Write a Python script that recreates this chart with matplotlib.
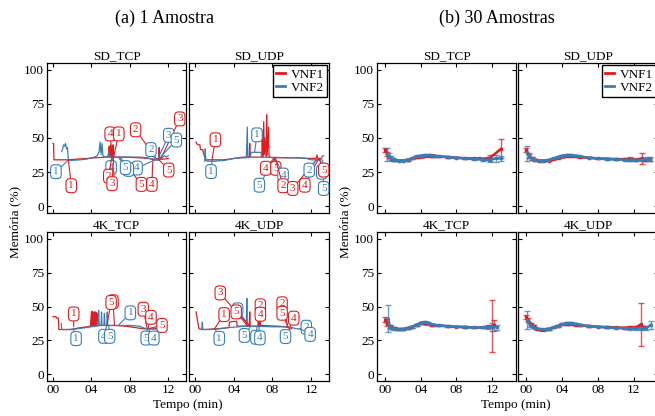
import numpy as np
import matplotlib
matplotlib.use("Agg")
import matplotlib.pyplot as plt
from matplotlib.lines import Line2D

plt.rcParams["font.family"] = ["Liberation Serif", "DejaVu Serif"]

RED = "#e41a1c"
BLUE = "#377eb8"
COLORS = [RED, BLUE]
W, H = 655, 416

facets = ["SD_TCP", "SD_UDP", "4K_TCP", "4K_UDP"]
series_names = ["VNF1", "VNF2"]
xticks = [0, 4, 8, 12]
xtick_labels = ["00", "04", "08", "12"]
yticks = [0, 25, 50, 75, 100]

# ---- (a) 1 Amostra : raw traces (tempo em min, memoria em %) ----
a_sd_tcp_t1 = [0.0, 0.05, 0.1, 1.5, 2.5, 3.5, 4.5, 5.5, 5.8, 5.85, 5.9, 6.0, 6.05, 6.1,
               6.2, 6.25, 6.3, 7.0, 8.0, 9.0, 10.0, 10.5, 11.0, 11.05, 11.1, 11.5, 12.0]
a_sd_tcp_v1 = [46, 46, 34, 34, 34.5, 35, 35.5, 36, 36, 44, 36, 45, 36, 42,
               36, 45, 36, 36, 35.8, 35.5, 35, 34, 34, 43, 34.5, 34.5, 35]
a_sd_tcp_t2 = [0.9, 1.0, 1.1, 1.2, 1.3, 1.4, 1.5, 1.6, 1.7, 2.5, 3.5, 4.3, 4.6, 4.8, 4.9, 5.0, 5.1,
               5.2, 5.3, 5.5, 5.7, 5.8, 5.9, 6.2, 7.0, 8.0, 9.0, 9.8, 10.5, 11.0, 11.3, 11.6, 11.8, 12.0]
a_sd_tcp_v2 = [40, 42, 45, 44, 46, 42, 43, 34, 33.5, 33.8, 34.5, 36, 37, 40, 47, 38, 46,
               37, 36.5, 36, 36.5, 40, 36, 36, 36, 36, 36, 35.5, 34, 33.8, 35, 37, 36, 37]

a_sd_udp_t1 = [0.1, 0.15, 0.3, 0.5, 0.55, 0.8, 0.85, 1.1, 2.0, 3.0, 4.0, 5.0, 5.6, 5.65, 5.7, 6.0,
               6.9, 6.95, 7.0, 7.1, 7.15, 7.2, 7.35, 7.4, 7.45, 7.6, 7.65, 7.7, 8.0, 9.0, 10.0,
               11.0, 12.0, 12.5, 12.6, 12.7, 13.0]
a_sd_udp_v1 = [47, 46, 45, 45, 41.5, 41.5, 39, 34, 34, 34, 35, 36, 36, 46, 36, 36,
               36, 55, 36, 62, 38, 50, 36, 67, 37, 58, 36, 36, 35.5, 35.5, 35.5,
               35.3, 35, 35, 37.5, 35, 35]
a_sd_udp_t2 = [1.0, 1.05, 1.1, 1.3, 2.0, 3.0, 4.0, 5.0, 5.3, 5.4, 5.45, 5.5, 5.7, 5.8, 6.0, 6.5,
               6.8, 6.9, 7.5, 8.5, 9.5, 10.5, 11.5, 12.0, 12.5, 13.0, 13.2, 13.3]
a_sd_udp_v2 = [33, 42, 33.5, 33, 33, 33.5, 35, 35.5, 35.5, 58, 36, 35.5, 36, 39.5, 39.5, 39.5,
               39.5, 36, 35.8, 35.8, 35.5, 35.5, 35, 34, 34, 34, 37, 37]

a_4k_tcp_t1 = [0.0, 0.3, 0.35, 0.55, 0.6, 1.0, 2.0, 2.5, 3.0, 3.5, 3.9, 4.0, 4.05, 4.1, 4.15, 4.2,
               4.25, 4.3, 4.35, 4.4, 4.45, 4.5, 4.55, 4.6, 4.8, 5.5, 6.5, 7.5, 8.0, 9.0, 9.5,
               10.0, 10.5, 11.0]
a_4k_tcp_v1 = [42.5, 42.5, 41.5, 41.5, 33, 33, 33, 34, 34.5, 35, 35.5, 46, 35.5, 46.5, 35.5, 45,
               36, 46, 36, 46, 36, 45.5, 36, 45, 36, 36, 36, 35.5, 35, 34, 33.5,
               33.5, 33.5, 34]
a_4k_tcp_t2 = [0.85, 0.9, 0.95, 1.5, 2.5, 3.5, 4.0, 4.5, 4.7, 4.75, 4.8, 5.0, 5.05, 5.1, 5.3,
               5.35, 5.4, 5.6, 5.65, 5.7, 6.0, 7.0, 8.0, 9.0, 9.5, 10.0, 10.5, 10.8]
a_4k_tcp_v2 = [37.5, 33, 33, 33, 33.5, 34.5, 35, 35.5, 35.5, 47, 36, 36, 46, 36, 36,
               45, 36, 36, 46, 36, 36, 36, 36, 35.5, 34, 33.5, 33.5, 33.5]

a_4k_udp_t1 = [0.1, 0.4, 1.0, 2.0, 3.0, 3.5, 3.55, 4.0, 4.3, 4.35, 5.0, 5.6, 5.65, 5.7, 5.8,
               6.5, 6.55, 6.6, 6.7, 6.75, 6.8, 7.5, 8.5, 9.5, 9.8, 10.0]
a_4k_udp_v1 = [46, 33.5, 33, 33.5, 34, 34.5, 38.5, 39, 39, 35.5, 35.5, 35.5, 46, 35.5, 35.5,
               35.5, 42.5, 35.5, 43, 35.5, 36, 35.8, 35.5, 35, 33.5, 33.5]
a_4k_udp_t2 = [0.7, 0.75, 0.8, 1.5, 2.5, 3.5, 4.5, 5.2, 5.3, 5.35, 5.4, 6.0, 7.0, 8.0, 9.0,
               10.0, 10.5, 11.0, 11.5]
a_4k_udp_v2 = [33, 38.5, 33, 33, 33.5, 34.5, 35, 35.5, 35.5, 56, 35.5, 35.3, 35.2, 35, 35,
               34.5, 33.5, 33.5, 33.5]

# eventos marcados: (rotulo, serie, t do ponto, valor do ponto, t da caixa, valor da caixa)
notes_sd_tcp = [
    ("1", 1, 1.6, 33.8, 0.3, 25.3), ("1", 0, 1.6, 33.8, 1.9, 15),
    ("4", 0, 6.15, 36, 5.95, 53), ("1", 0, 6.3, 36, 6.85, 53),
    ("2", 0, 10.8, 34.5, 8.6, 56), ("3", 0, 11.2, 34.5, 13.2, 64),
    ("3", 1, 10.9, 34.5, 12.05, 52), ("5", 1, 11.0, 34.5, 12.85, 48.5),
    ("2", 1, 10.6, 34.5, 10.2, 41.5), ("5", 0, 10.9, 35, 12.05, 26.5),
    ("4", 0, 10.4, 35, 10.3, 16), ("5", 0, 7.0, 35.5, 9.2, 16),
    ("4", 1, 10.8, 34.5, 8.75, 28), ("5", 1, 7.0, 35.5, 7.85, 27),
    ("5", 1, 6.85, 35.5, 7.55, 28.3), ("4", 1, 6.2, 35.5, 6.05, 28.3),
    ("2", 0, 6.1, 35.5, 5.8, 22), ("3", 0, 6.3, 35.5, 6.15, 16.5),
]
notes_sd_udp = [
    ("1", 0, 1.75, 34, 2.1, 48.7), ("1", 1, 1.75, 33.5, 1.65, 25.4),
    ("1", 1, 6.15, 39.5, 6.4, 52.3), ("5", 1, 8.2, 35, 6.65, 15.4),
    ("4", 0, 8.2, 35.5, 7.3, 27.8), ("5", 0, 8.2, 35.5, 8.35, 27.8),
    ("4", 1, 8.3, 35, 9.1, 22.8), ("2", 0, 8.3, 35, 9.1, 15),
    ("3", 0, 12.6, 34.5, 10.1, 13), ("4", 0, 12.8, 35, 11.35, 15.4),
    ("2", 1, 12.6, 34.5, 11.8, 26.5), ("5", 1, 13.2, 34, 13.3, 13),
    ("4", 1, 13.0, 34, 13.1, 25), ("5", 0, 12.8, 35, 13.3, 26.5),
]
notes_4k_tcp = [
    ("1", 0, 2.15, 35, 2.15, 44.5), ("1", 1, 2.1, 33.5, 2.4, 26.3),
    ("5", 0, 6.4, 36, 6.25, 53.5), ("5", 0, 5.6, 36, 6.05, 53),
    ("1", 1, 6.8, 36, 8.05, 45.3), ("4", 1, 5.6, 36, 5.3, 28),
    ("5", 1, 5.8, 36, 5.9, 28), ("3", 0, 9.8, 34, 9.4, 48),
    ("4", 0, 9.9, 34, 10.2, 42), ("5", 0, 10.1, 34, 11.35, 36),
    ("5", 1, 9.8, 33.5, 9.7, 26.7), ("4", 1, 9.9, 33.5, 10.5, 26.7),
]
notes_4k_udp = [
    ("3", 0, 5.45, 35.5, 2.6, 60), ("1", 0, 2.0, 33.5, 3.0, 44),
    ("1", 1, 2.1, 33, 2.5, 26.5), ("5", 1, 5.6, 35.5, 4.4, 47.5),
    ("5", 0, 5.7, 35.5, 4.25, 46), ("2", 0, 6.7, 36, 6.75, 50.5),
    ("4", 0, 6.7, 36, 6.75, 44.3), ("5", 1, 5.7, 35, 5.1, 28.6),
    ("1", 1, 6.4, 35, 6.3, 27.3), ("4", 1, 6.6, 35, 6.7, 26.8),
    ("2", 0, 9.6, 35, 9.0, 52), ("5", 0, 9.6, 35, 9.0, 45),
    ("4", 0, 9.8, 35, 10.2, 41.4), ("5", 1, 9.8, 34, 9.35, 27.8),
    ("2", 1, 10.8, 33.5, 11.5, 34.7), ("4", 1, 10.9, 33.5, 11.9, 29.4),
]

# ---- (b) 30 Amostras : media e desvio ----
b_sd_tcp_t1 = [0.0, 0.2, 0.4, 0.7, 1.0, 1.5, 2.0, 2.5, 3.0, 3.5, 4.0, 4.5, 5.0, 5.5, 6.0,
               7.0, 8.0, 9.0, 10.0, 10.5, 11.0, 11.8, 13.0]
b_sd_tcp_m1 = [41.5, 38, 36, 34.5, 34, 33.5, 33.5, 34, 35, 36, 36.5, 37, 37, 37, 36.5,
               36, 35.5, 35.2, 35, 35, 34.8, 35.5, 42]
b_sd_tcp_e1 = [1.5, 1.5, 1, 0.8, 0.6, 0.5, 0.5, 0.5, 0.6, 0.8, 0.8, 0.8, 0.7, 0.6, 0.5,
               0.5, 0.5, 0.5, 0.5, 0.5, 0.6, 2, 7]
b_sd_tcp_t2 = [0.2, 0.4, 0.6, 0.8, 1.0, 1.5, 2.0, 2.5, 3.0, 3.5, 4.0, 4.5, 5.0, 5.5, 6.0,
               7.0, 8.0, 9.0, 10.0, 11.0, 11.8, 12.4, 13.0]
b_sd_tcp_m2 = [38, 37, 35.5, 34.5, 34, 33.5, 33.5, 34, 35, 36.5, 37, 37.5, 37.5, 37, 36.5,
               36, 35.5, 35, 34.5, 34.2, 34, 35, 35]
b_sd_tcp_e2 = [4.5, 2, 1.5, 1, 0.7, 0.5, 0.5, 0.5, 0.6, 0.8, 0.8, 0.7, 0.7, 0.6, 0.5,
               0.5, 0.5, 0.5, 0.6, 0.7, 1.5, 2.5, 2]

b_sd_udp_t1 = [0.0, 0.3, 0.6, 1.0, 1.5, 2.0, 2.5, 3.0, 3.5, 4.0, 4.5, 5.0, 5.5, 6.0, 7.0,
               8.0, 9.0, 10.0, 11.0, 11.6, 12.2, 12.9, 13.3, 13.8]
b_sd_udp_m1 = [41, 37, 35, 34, 33.3, 33.3, 33.5, 34.5, 35.5, 36.5, 37, 37, 36.5, 36, 35.5,
               35, 34.8, 34.5, 34.5, 34.5, 34, 35, 34, 34.5]
b_sd_udp_e1 = [1.5, 1.5, 1, 0.8, 0.6, 0.5, 0.5, 0.6, 0.7, 0.8, 0.8, 0.8, 0.7, 0.6, 0.5,
               0.5, 0.5, 0.5, 0.8, 1.5, 0.8, 4, 1, 1]
b_sd_udp_t2 = [0.1, 0.3, 0.6, 1.0, 1.5, 2.0, 2.5, 3.0, 3.5, 4.0, 4.5, 5.0, 5.5, 6.0, 7.0,
               8.0, 9.0, 10.0, 11.0, 11.6, 12.2, 12.9, 13.5, 13.8]
b_sd_udp_m2 = [39, 37, 35, 34, 33.5, 33.5, 34, 35, 36, 37, 37.5, 37.5, 37, 36.5, 35.5,
               35, 34.5, 34.3, 34, 34, 34, 34, 34.5, 34.5]
b_sd_udp_e2 = [5.5, 2, 1.2, 0.8, 0.6, 0.5, 0.5, 0.6, 0.7, 0.8, 0.8, 0.8, 0.7, 0.6, 0.5,
               0.5, 0.5, 0.5, 0.6, 1, 1, 1, 1.5, 1.5]

b_4k_tcp_t1 = [0.0, 0.2, 0.5, 1.0, 1.5, 2.0, 2.5, 3.0, 3.5, 4.0, 4.3, 4.7, 5.2, 6.0, 7.0,
               8.0, 9.0, 10.0, 11.0, 11.6, 12.0, 12.2]
b_4k_tcp_m1 = [40.3, 37, 35.4, 34, 33.3, 33.3, 34, 35, 36.5, 37.8, 38, 37.5, 36.5, 36, 35.4,
               35, 34.8, 34.5, 34.5, 35, 35.4, 36]
b_4k_tcp_e1 = [2, 1.5, 1, 0.8, 0.6, 0.5, 0.5, 0.6, 0.7, 0.8, 0.8, 0.8, 0.7, 0.6, 0.5,
               0.5, 0.5, 0.5, 0.6, 1, 19.2, 4]
b_4k_tcp_t2 = [0.3, 0.5, 0.8, 1.2, 1.6, 2.0, 2.5, 3.0, 3.5, 4.0, 4.4, 4.8, 5.5, 6.0, 7.0,
               8.0, 9.0, 10.0, 11.0, 11.6, 12.0, 12.6]
b_4k_tcp_m2 = [41, 35, 34, 33.3, 33.2, 33.3, 34, 35, 36.5, 38, 38.5, 37.8, 36.5, 36, 35.5,
               35, 34.8, 34.5, 34.5, 34.5, 35, 34.5]
b_4k_tcp_e2 = [10, 1.5, 1, 0.6, 0.5, 0.5, 0.5, 0.6, 0.7, 0.8, 0.8, 0.8, 0.7, 0.6, 0.5,
               0.5, 0.5, 0.5, 0.6, 1, 3, 1.5]

b_4k_udp_t1 = [0.0, 0.2, 0.5, 0.8, 1.2, 1.6, 2.0, 2.5, 3.0, 3.5, 4.0, 4.5, 5.0, 5.5, 6.0,
               7.0, 8.0, 9.0, 10.0, 11.0, 11.6, 12.2, 12.8, 13.1]
b_4k_udp_m1 = [42.2, 39.8, 37, 35.5, 33.5, 33, 33, 33.5, 34.5, 35.5, 36.8, 37.4, 37.3, 36.5, 36,
               35.5, 35, 34.8, 34.5, 34.3, 34.5, 34.5, 36.8, 34.5]
b_4k_udp_e1 = [1.5, 1.5, 1, 0.8, 0.6, 0.5, 0.5, 0.5, 0.6, 0.7, 0.8, 0.8, 0.8, 0.7, 0.6,
               0.5, 0.5, 0.5, 0.5, 0.6, 1.2, 1, 15.8, 1]
b_4k_udp_t2 = [0.1, 0.4, 0.7, 1.0, 1.5, 2.0, 2.5, 3.0, 3.5, 4.0, 4.5, 5.0, 5.5, 6.0, 7.0,
               8.0, 9.0, 10.0, 11.0, 11.6, 12.2, 12.8, 13.4, 13.9]
b_4k_udp_m2 = [40, 36.5, 35, 34, 33.3, 33.2, 33.5, 34.5, 35.5, 36.8, 37.5, 37.8, 37.2, 36.5, 35.5,
               35, 34.5, 34.2, 33.8, 33.8, 34, 34, 34, 36.5]
b_4k_udp_e2 = [6.5, 1.5, 1.2, 0.8, 0.6, 0.5, 0.5, 0.6, 0.7, 0.8, 0.8, 0.8, 0.7, 0.6, 0.5,
               0.5, 0.5, 0.5, 0.6, 1, 1, 1.5, 1.5, 3]

a_data = {
    "SD_TCP": [(a_sd_tcp_t1, a_sd_tcp_v1), (a_sd_tcp_t2, a_sd_tcp_v2)],
    "SD_UDP": [(a_sd_udp_t1, a_sd_udp_v1), (a_sd_udp_t2, a_sd_udp_v2)],
    "4K_TCP": [(a_4k_tcp_t1, a_4k_tcp_v1), (a_4k_tcp_t2, a_4k_tcp_v2)],
    "4K_UDP": [(a_4k_udp_t1, a_4k_udp_v1), (a_4k_udp_t2, a_4k_udp_v2)],
}
a_notes = {"SD_TCP": notes_sd_tcp, "SD_UDP": notes_sd_udp,
           "4K_TCP": notes_4k_tcp, "4K_UDP": notes_4k_udp}
b_data = {
    "SD_TCP": [(b_sd_tcp_t1, b_sd_tcp_m1, b_sd_tcp_e1), (b_sd_tcp_t2, b_sd_tcp_m2, b_sd_tcp_e2)],
    "SD_UDP": [(b_sd_udp_t1, b_sd_udp_m1, b_sd_udp_e1), (b_sd_udp_t2, b_sd_udp_m2, b_sd_udp_e2)],
    "4K_TCP": [(b_4k_tcp_t1, b_4k_tcp_m1, b_4k_tcp_e1), (b_4k_tcp_t2, b_4k_tcp_m2, b_4k_tcp_e2)],
    "4K_UDP": [(b_4k_udp_t1, b_4k_udp_m1, b_4k_udp_e1), (b_4k_udp_t2, b_4k_udp_m2, b_4k_udp_e2)],
}


def box(x0, x1, y0, y1):
    return [x0 / W, 1 - y1 / H, (x1 - x0) / W, (y1 - y0) / H]


def style_axes(ax, name, col, row, xlim):
    ax.set_xlim(*xlim)
    ax.set_ylim(-5, 105)
    ax.set_xticks(xticks)
    ax.set_yticks(yticks)
    ax.set_xticklabels(xtick_labels if row == 1 else [])
    ax.set_yticklabels([str(v) for v in yticks] if col == 0 else [])
    ax.tick_params(direction="in", top=True, right=True, length=3, width=0.8,
                   labelsize=9.5, pad=2)
    for s in ax.spines.values():
        s.set_linewidth(0.9)
    ax.set_title(name, fontsize=9.5, pad=3)


def add_legend(ax):
    handles = [Line2D([], [], color=COLORS[k], lw=2) for k in range(2)]
    ax.legend(handles, series_names, loc="upper right", fontsize=9.5, frameon=True,
              fancybox=False, edgecolor="black", framealpha=1, handlelength=0.7,
              handletextpad=0.4, borderaxespad=0.15, borderpad=0.25, labelspacing=0.1)


fig = plt.figure(figsize=(W / 100, H / 100), dpi=100)

cols_a = [(47, 186), (189, 329)]
cols_b = [(377, 516), (518, 658)]
rows = [(63, 213), (232, 381)]

# (a)
for i, name in enumerate(facets):
    r, c = divmod(i, 2)
    ax = fig.add_axes(box(cols_a[c][0], cols_a[c][1], rows[r][0], rows[r][1]))
    for k, (t, v) in enumerate(a_data[name]):
        ax.plot(t, v, color=COLORS[k], lw=0.9)
    for lab, k, tx, ty, bx, by in a_notes[name]:
        ax.annotate(lab, xy=(tx, ty), xytext=(bx, by), color=COLORS[k], fontsize=8,
                    ha="center", va="center", zorder=5,
                    bbox=dict(boxstyle="round,pad=0.22,rounding_size=0.35", fc="white",
                              ec=COLORS[k], lw=0.8),
                    arrowprops=dict(arrowstyle="-", color=COLORS[k], lw=0.8,
                                    shrinkA=0, shrinkB=0))
    style_axes(ax, name, c, r, (-0.63, 13.85))
    if name == "SD_UDP":
        add_legend(ax)

# (b)
for i, name in enumerate(facets):
    r, c = divmod(i, 2)
    ax = fig.add_axes(box(cols_b[c][0], cols_b[c][1], rows[r][0], rows[r][1]))
    for k, (t, m, e) in enumerate(b_data[name]):
        eb = ax.errorbar(t, m, yerr=e, color=COLORS[k], lw=1.8, elinewidth=1.0, capsize=2,
                         capthick=1.0, marker="s", ms=1.4)
        for part in eb[1] + eb[2]:
            part.set_alpha(0.75)
    style_axes(ax, name, c, r, (-0.95, 14.7))
    if name == "SD_UDP":
        add_legend(ax)

fig.text(165 / W, 1 - 18 / H, "(a) 1 Amostra", ha="center", va="center", fontsize=13)
fig.text(497 / W, 1 - 18 / H, "(b) 30 Amostras", ha="center", va="center", fontsize=13)
fig.text(15 / W, 1 - 222 / H, "Memória (%)", rotation=90, ha="center", va="center", fontsize=9.5)
fig.text(345 / W, 1 - 222 / H, "Memória (%)", rotation=90, ha="center", va="center", fontsize=9.5)
fig.text(188 / W, 1 - 405 / H, "Tempo (min)", ha="center", va="center", fontsize=9.5)
fig.text(516 / W, 1 - 405 / H, "Tempo (min)", ha="center", va="center", fontsize=9.5)

fig.savefig("out.png", dpi=100)
